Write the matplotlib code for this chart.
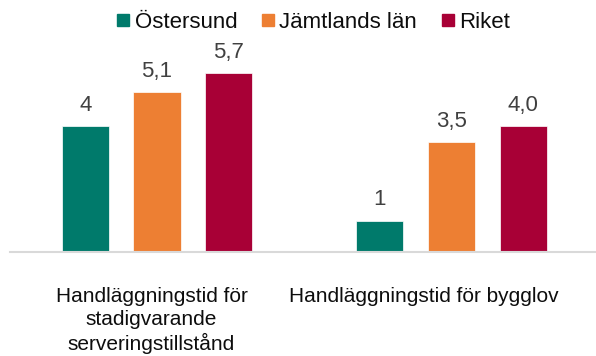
import matplotlib
matplotlib.use("Agg")
import matplotlib.pyplot as plt
from matplotlib.lines import Line2D
import numpy as np

categories = ["Handläggningstid för\nstadigvarande\nserveringstillstånd",
              "Handläggningstid för bygglov"]
series_names = ["Östersund", "Jämtlands län", "Riket"]
ostersund = [4, 1]
jamtland = [5.1, 3.5]
riket = [5.7, 4.0]
value_labels = [["4", "1"], ["5,1", "3,5"], ["5,7", "4,0"]]

colors = ["#007A6B", "#ED7F33", "#A80036"]
label_color = "#404040"
fs = 15

plt.rcParams["font.family"] = ["Liberation Sans", "DejaVu Sans"]

fig = plt.figure(figsize=(5.96, 3.56), dpi=100)
ax = fig.add_axes([9.75 / 596, 104 / 356, 589 / 596, 204 / 356])

x = np.arange(len(categories))
spacing = 0.243
width = 0.16
all_series = [ostersund, jamtland, riket]
for i, (vals, col, labs) in enumerate(zip(all_series, colors, value_labels)):
    pos = x + (i - 1) * spacing
    ax.bar(pos, vals, width=width, color=col, edgecolor="white", linewidth=0.5)
    for px, v, t in zip(pos, vals, labs):
        ax.annotate(t, (px, v), xytext=(0, 11), textcoords="offset points",
                    ha="center", va="baseline", fontsize=16, color=label_color)

ax.set_xlim(-0.5, 1.5)
ax.set_ylim(0, 6.5)
for s in ["top", "right", "left"]:
    ax.spines[s].set_visible(False)
ax.spines["bottom"].set_color("#D9D9D9")
ax.spines["bottom"].set_linewidth(1.5)
ax.set_yticks([])
ax.set_xticks([])

# category labels below the axis
label_shift = [-4, -20]
for xi, cat, dx in zip(x, categories, label_shift):
    ax.annotate(cat, (xi, 0), xytext=(dx, -25), textcoords="offset points",
                ha="center", va="top", fontsize=fs, color="#0D0D0D",
                linespacing=1.26, annotation_clip=False)

handles = [Line2D([], [], marker="s", linestyle="none", markersize=8.6,
                  markerfacecolor=c, markeredgecolor=c) for c in colors]
fig.legend(handles, series_names, loc="center", ncol=3,
           bbox_to_anchor=(313.5 / 596, 1 - 22 / 356), frameon=False,
           fontsize=16, handlelength=0.6, handletextpad=0.2,
           columnspacing=1.1, borderpad=0, labelcolor="#0D0D0D")

fig.savefig("out.png", dpi=100)
